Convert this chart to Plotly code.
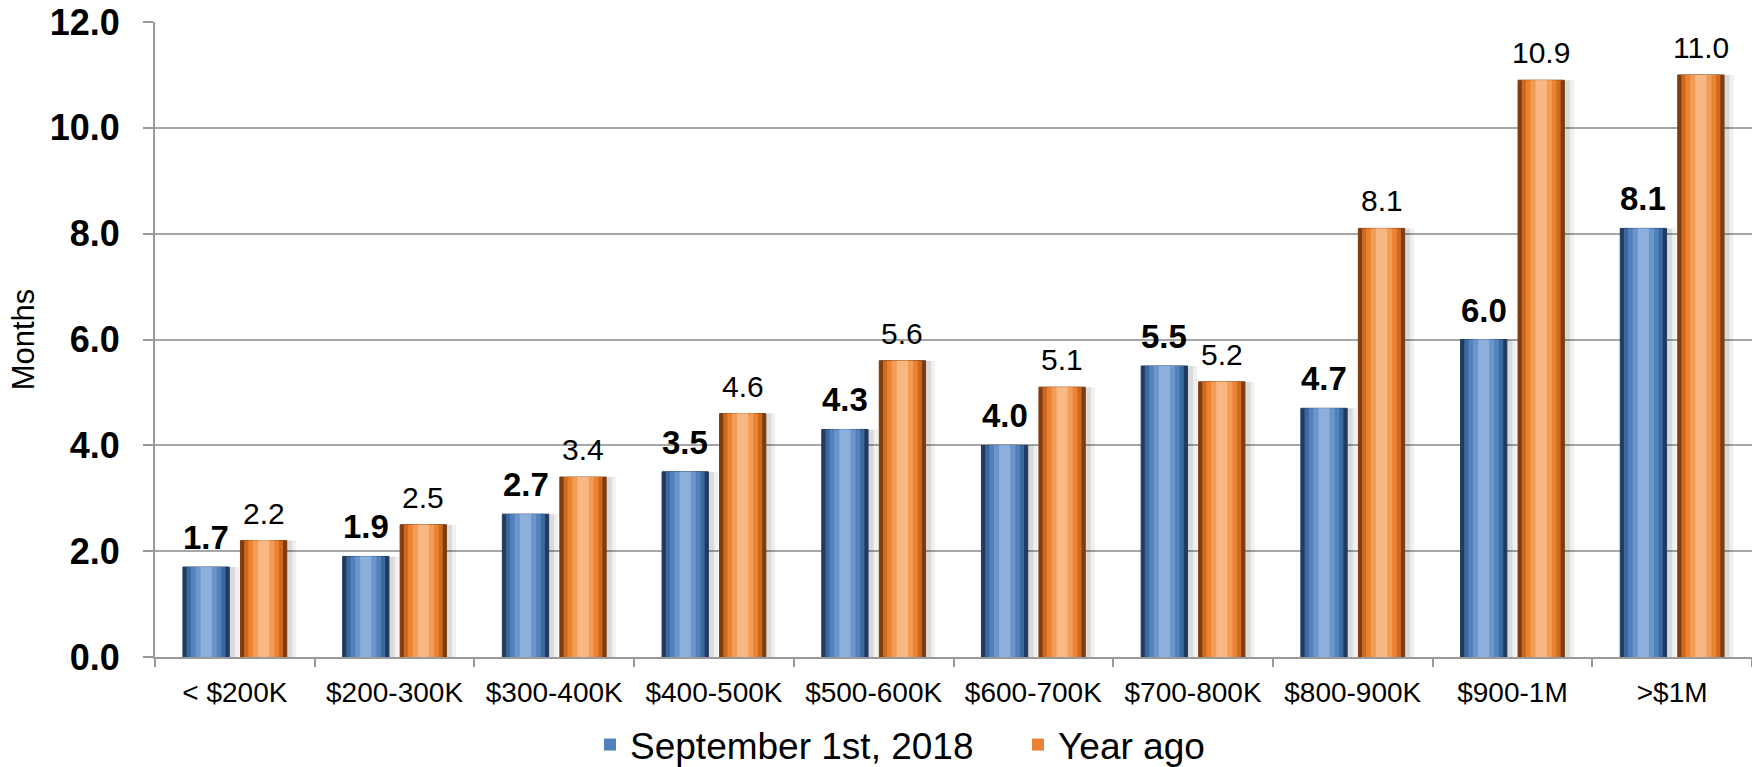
import plotly.graph_objects as go

categories = ["< $200K", "$200-300K", "$300-400K", "$400-500K", "$500-600K",
              "$600-700K", "$700-800K", "$800-900K", "$900-1M", ">$1M"]
current = [1.7, 1.9, 2.7, 3.5, 4.3, 4.0, 5.5, 4.7, 6.0, 8.1]
year_ago = [2.2, 2.5, 3.4, 4.6, 5.6, 5.1, 5.2, 8.1, 10.9, 11.0]
series_names = ["September 1st, 2018", "Year ago"]
y_ticks = [0, 2, 4, 6, 8, 10, 12]

FONT = "Liberation Sans, Arial, sans-serif"
BAR_W = 0.29
CENTERS = [-0.18, 0.18]
LAYER_W = [1.0, 0.84, 0.66, 0.46, 0.24]
BLUE_LAYERS = ["#213b60", "#3d679f", "#5282be", "#6b95cb", "#8cafdb"]
ORANGE_LAYERS = ["#7e3d10", "#cf691e", "#eb8334", "#f39c56", "#f8b884"]
LEGEND_LAYER = 2

fig = go.Figure()
idx = list(range(len(categories)))

for s, (vals, layers, c) in enumerate([(current, BLUE_LAYERS, CENTERS[0]),
                                        (year_ago, ORANGE_LAYERS, CENTERS[1])]):
    # soft shadow
    for sh, a in [(0.06, 0.06), (0.035, 0.09)]:
        fig.add_trace(go.Bar(x=categories, y=vals, width=BAR_W, offset=c - BAR_W / 2 + sh,
                             marker=dict(color=f"rgba(0,0,0,{a})", line=dict(width=0)),
                             showlegend=False, hoverinfo="skip"))
    for k, (lw, col) in enumerate(zip(LAYER_W, layers)):
        w = BAR_W * lw
        fig.add_trace(go.Bar(
            x=categories, y=vals, width=w, offset=c - w / 2,
            marker=dict(color=col, line=dict(width=1 if k == 0 else 0, color=layers[0])),
            name=series_names[s], showlegend=(k == LEGEND_LAYER),
            legendgroup=series_names[s],
            hoverinfo=None if k == 0 else "skip"))

annotations = []
for i in idx:
    annotations.append(dict(x=i + CENTERS[0], y=current[i], xref="x", yref="y",
                            text=f"<b>{current[i]:.1f}</b>", showarrow=False, yanchor="bottom",
                            yshift=9, font=dict(family=FONT, size=33, color="black")))
    annotations.append(dict(x=i + CENTERS[1], y=year_ago[i], xref="x", yref="y",
                            text=f"{year_ago[i]:.1f}", showarrow=False, yanchor="bottom",
                            yshift=9, font=dict(family=FONT, size=30, color="black")))

fig.update_layout(
    width=1752, height=767,
    margin=dict(l=155, r=0, t=22, b=110, autoexpand=False),
    paper_bgcolor="white", plot_bgcolor="white",
    barmode="overlay",
    font=dict(family=FONT, color="black"),
    annotations=annotations,
    legend=dict(orientation="h", x=0.2724, y=-0.1386, xanchor="left", yanchor="middle",
                font=dict(family=FONT, size=37, color="black"),
                entrywidth=383, entrywidthmode="pixels", traceorder="normal"),
    xaxis=dict(type="category", tickson="boundaries", ticks="outside", ticklen=8,
               tickcolor="#999999", tickwidth=2, showline=True, linecolor="#999999",
               linewidth=2, tickfont=dict(family=FONT, size=28, color="black"),
               ticklabelstandoff=9, showgrid=False, range=[-0.5, 9.5]),
    yaxis=dict(range=[0, 12], tickvals=y_ticks, tickformat=".1f", ticks="outside",
               ticklen=10, tickcolor="#999999", tickwidth=2, showline=True,
               linecolor="#999999", linewidth=2, gridcolor="#a6a6a6", gridwidth=2,
               tickfont=dict(family=FONT, size=36, color="black", weight="bold"),
               ticklabelstandoff=16, ticklabeloverflow="allow",
               title=dict(text="Months", font=dict(family=FONT, size=31, color="black"),
                          standoff=6),
               zeroline=False),
)
fig.write_html("out.html", config={"displayModeBar": False},
               post_script="document.body.style.margin='0';")
